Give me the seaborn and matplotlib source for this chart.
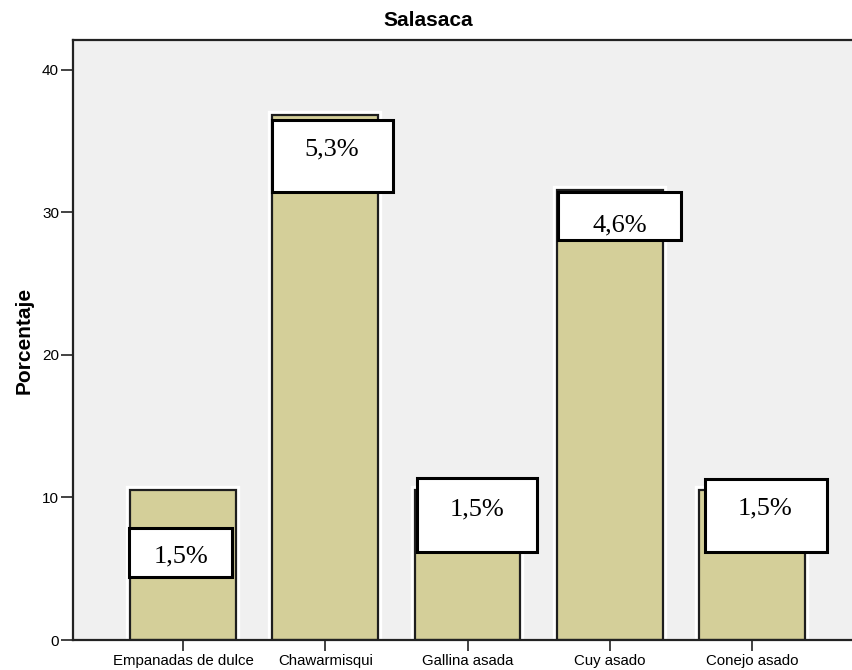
import matplotlib
matplotlib.use("Agg")
import matplotlib.pyplot as plt
import matplotlib.patheffects as pe
from matplotlib.patches import Rectangle
import seaborn as sns
import pandas as pd

categories = ["Empanadas de dulce", "Chawarmisqui", "Gallina asada", "Cuy asado", "Conejo asado"]
percent = [10.53, 36.84, 10.53, 31.58, 10.53]
label_texts = ["1,5%", "5,3%", "1,5%", "4,6%", "1,5%"]
y_ticks = [0, 10, 20, 30, 40]

# label box geometry (x0, x1 in category units; y0, y1 in data units; text position)
box_x = [(-0.380, 0.344), (0.626, 1.476), (1.645, 2.489), (2.636, 3.501), (3.670, 4.527)]
box_y = [(4.42, 7.86), (31.44, 36.49), (6.18, 11.37), (28.07, 31.44), (6.18, 11.30)]
text_xy = [(-0.014, 5.89), (1.047, 34.39), (2.067, 9.19), (3.072, 29.12), (4.091, 9.26)]

df = pd.DataFrame({"cat": categories, "pct": percent})

sns.set_style("white")
plt.rcParams["font.family"] = ["Liberation Sans", "DejaVu Sans"]

fig = plt.figure(figsize=(8.52, 6.70), dpi=100)
fig.patch.set_facecolor("white")
ax = fig.add_axes([73 / 852, 30 / 670, (862 - 73) / 852, 600 / 670])
ax.set_facecolor("#F0F0F0")

sns.barplot(data=df, x="cat", y="pct", color="#D4CF99", edgecolor="#1E1E1E",
            linewidth=1.6, width=0.745, saturation=1, ax=ax, zorder=2)
for p in ax.patches:
    p.set_path_effects([pe.Stroke(linewidth=6, foreground="white"), pe.Normal()])

for (x0, x1), (y0, y1), (tx, ty), t in zip(box_x, box_y, text_xy, label_texts):
    ax.add_patch(Rectangle((x0, y0), x1 - x0, y1 - y0, facecolor="white",
                           edgecolor="black", linewidth=2.2, zorder=5))
    ax.text(tx, ty, t, ha="center", va="center", fontsize=19, color="black",
            family=["Liberation Serif", "DejaVu Serif"], zorder=6)

ax.set_xlim(-0.773, 4.773)
ax.set_ylim(0, 42.1)
ax.set_yticks(y_ticks)
ax.set_yticklabels([str(v) for v in y_ticks])
ax.tick_params(axis="x", bottom=True, labelsize=10.8, labelcolor="black", length=8,
               width=1.2, direction="out", pad=2, color="#222222")
ax.tick_params(axis="y", left=True, labelsize=11, labelcolor="black", length=9,
               width=1.2, direction="out", pad=1, color="#222222")
ax.set_xlabel("")
ax.set_ylabel("Porcentaje", fontsize=15, fontweight="bold", color="black", labelpad=6)
fig.text(428 / 852, 1 - 20 / 670, "Salasaca", ha="center", va="center",
         fontsize=15, fontweight="bold", color="black")

for s in ["left", "top", "bottom"]:
    ax.spines[s].set_visible(True)
    ax.spines[s].set_color("#222222")
    ax.spines[s].set_linewidth(1.6)
ax.spines["right"].set_visible(False)

fig.savefig("out.png", dpi=100)
